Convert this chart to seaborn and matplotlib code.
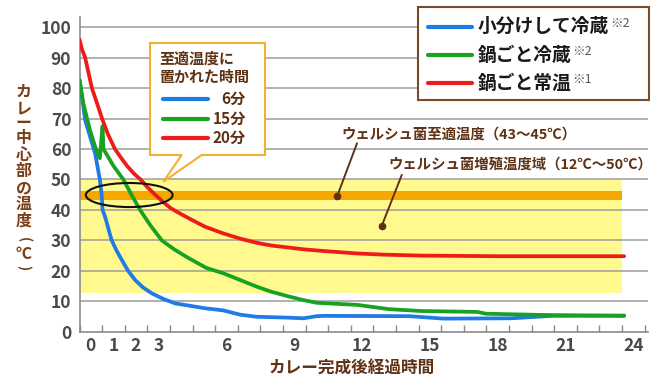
import numpy as np
import pandas as pd
import matplotlib
matplotlib.use("Agg")
import matplotlib.pyplot as plt
import seaborn as sns
from matplotlib.patches import Rectangle, Ellipse, Polygon
from matplotlib.lines import Line2D

# ---------------- data ----------------
series_names = ["小分けして冷蔵", "鍋ごと冷蔵", "鍋ごと常温"]
series_notes = ["※2", "※2", "※1"]
series_colors = ["#1F7BE6", "#17A321", "#EE1B1B"]

hours_blue = [-0.5, -0.35, -0.25, 0.19, 0.4, 0.48, 0.52, 0.63, 0.92, 1.15, 1.37, 1.65,
              1.96, 2.3, 2.7, 3.2, 3.73, 4.4, 5.05, 5.86, 6.6, 7.34, 8.8, 9.4, 10.0,
              10.3, 14.1, 15.6, 18.6, 20.4, 23.6]
temp_blue = [82.7, 75, 69.5, 58.6, 50, 45, 40, 37.8, 30.1, 26.5, 23.6, 20,
             17, 14.6, 12.6, 10.8, 9.3, 8.5, 7.7, 7.0, 5.6, 4.9, 4.6, 4.4, 5.1,
             5.2, 5.1, 4.3, 4.4, 5.2, 5.3]

hours_green = [-0.5, -0.33, -0.04, 0.19, 0.4, 0.52, 0.56, 1.0, 1.44, 1.8, 2.18, 2.65,
               3.14, 3.7, 4.3, 5.1, 5.86, 6.6, 7.34, 8.0, 8.8, 9.4, 10.0, 11.8, 13.2,
               14.6, 17.1, 17.5, 20.0, 23.6]
temp_green = [82.7, 75, 66.3, 60.8, 57, 67.5, 60, 54.5, 50, 45, 40, 34.8,
              30, 27, 24.3, 21, 19.2, 17, 14.8, 13.1, 11.5, 10.4, 9.5, 8.8, 7.4,
              6.8, 6.5, 5.9, 5.5, 5.2]

hours_red = [-0.5, -0.4, -0.25, 0.05, 0.3, 0.5, 0.75, 1.07, 1.35, 1.6, 1.9, 2.2, 2.5,
             2.85, 3.2, 3.55, 4.0, 4.4, 5.05, 5.86, 6.6, 7.34, 8.0, 8.8, 9.5, 10.3,
             11.8, 13.0, 14.6, 18.0, 23.6]
temp_red = [96, 93, 90, 80, 74.5, 70, 65, 60, 57, 54.5, 52, 50, 47.5,
            45, 42.6, 40.5, 38.6, 37, 34.5, 32.3, 30.6, 29.2, 28.3, 27.6, 27, 26.5,
            25.7, 25.3, 25.0, 24.8, 24.8]

growth_range = (12.8, 50)      # ウェルシュ菌増殖温度域
optimal_range = (43.3, 46.1)   # ウェルシュ菌至適温度
band_hours = (-0.5, 23.5)

x_ticks = [0, 1, 2, 3, 6, 9, 12, 15, 18, 21, 24]
y_ticks = list(range(0, 101, 10))

callout_title = ["至適温度に", "置かれた時間"]
callout_labels = ["6分", "15分", "20分"]

ann_optimal = "ウェルシュ菌至適温度（43～45℃）"
ann_growth = "ウェルシュ菌増殖温度域（12℃～50℃）"
x_label = "カレー完成後経過時間"
y_label_chars = ["カ", "レ", "ー", "中", "心", "部", "の", "温", "度"]
y_label_unit = ["(", "℃", ")"]

# ---------------- style ----------------
sns.set_theme(style="white")
plt.rcParams["font.family"] = ["Noto Sans CJK JP", "DejaVu Sans"]

W, H = 664, 383
fig = plt.figure(figsize=(W / 100, H / 100), dpi=100)

def P(x, y):
    return (x / W, 1 - y / H)

ax_left, ax_right, ax_top, ax_bottom = 79.5, 648, 17, 331.7
ax = fig.add_axes([ax_left / W, (H - ax_bottom) / H, (ax_right - ax_left) / W,
                   (ax_bottom - ax_top) / H])
ax.set_xlim(-0.5, -0.5 + (ax_right - ax_left) / 22.6)
ax.set_ylim(0, (ax_bottom - ax_top) / 3.044)

brown = "#5E3214"
tick_color = "#4A4A4A"
grid_color = "#9C9C9C"

# bands
ax.add_patch(Rectangle((band_hours[0], growth_range[0]), band_hours[1] - band_hours[0],
                       growth_range[1] - growth_range[0], facecolor="#FFF98E",
                       edgecolor="none", zorder=0.1))
ax.add_patch(Rectangle((band_hours[0], optimal_range[0]), band_hours[1] - band_hours[0],
                       optimal_range[1] - optimal_range[0], facecolor="#F6A800",
                       edgecolor="none", zorder=0.2))

# grid
for yv in y_ticks[1:]:
    ax.axhline(yv, color=grid_color, lw=1.1, zorder=0.5)

# data lines
df = pd.concat([
    pd.DataFrame({"t": hours_blue, "v": temp_blue, "s": series_names[0]}),
    pd.DataFrame({"t": hours_green, "v": temp_green, "s": series_names[1]}),
    pd.DataFrame({"t": hours_red, "v": temp_red, "s": series_names[2]}),
])
sns.lineplot(data=df, x="t", y="v", hue="s", hue_order=series_names,
             palette=series_colors, estimator=None, sort=False, legend=False,
             linewidth=2.7, ax=ax)
for ln in ax.lines[-3:]:
    ln.set_solid_capstyle("round")
    ln.set_solid_joinstyle("round")
    ln.set_zorder(3)

# ellipse
ax.add_patch(Ellipse((1.7, 44.9), 3.84, 7.9, facecolor="none", edgecolor="#111111",
                     lw=1.5, zorder=4))

# annotation pointers
ax.plot([11.78, 10.9], [61.9, 44.5], color=brown, lw=1.4, zorder=4)
ax.plot([10.9], [44.5], "o", color=brown, ms=4.5, zorder=4)
ax.plot([13.76, 12.87], [51.5, 34.7], color=brown, lw=1.4, zorder=4)
ax.plot([12.87], [34.7], "o", color=brown, ms=4.5, zorder=4)
ax.text(11.1, 64.6, ann_optimal, fontsize=10.4, color=brown, fontweight="bold",
        va="center", ha="left", zorder=5)
ax.text(13.16, 54.8, ann_growth, fontsize=10.4, color=brown, fontweight="bold",
        va="center", ha="left", zorder=5)

# axes styling
for side in ["top", "right"]:
    ax.spines[side].set_visible(False)
for side in ["left", "bottom"]:
    ax.spines[side].set_color("#8C8C8C")
    ax.spines[side].set_linewidth(1.2)
ax.set_xticks(x_ticks)
ax.set_xticks(np.arange(-0.5, 24.6, 1.0), minor=True)
ax.set_yticks(y_ticks)
ax.tick_params(axis="x", which="major", length=0, pad=4, labelsize=12.5,
               labelcolor=tick_color)
ax.tick_params(axis="x", which="minor", direction="in", length=5, width=1,
               color="#8C8C8C", bottom=True)
ax.tick_params(axis="y", which="major", length=0, pad=6, labelsize=12.5,
               labelcolor=tick_color)
for lab in ax.get_xticklabels() + ax.get_yticklabels():
    lab.set_fontweight("bold")
ax.set_xlabel("")
ax.set_ylabel("")
ax.grid(False)

# x label
fig.text(*P(352, 369), x_label, fontsize=12, color=brown, fontweight="bold",
         ha="center", va="center")
# y label (stacked characters)
ylab_color = "#7A3E14"
y_pos = [91.7, 108, 122.5, 138.5, 155, 171.5, 188, 204, 221]
for ch, yy in zip(y_label_chars, y_pos):
    fig.text(*P(23.5, yy), ch, fontsize=11.5, color=ylab_color, fontweight="bold",
             ha="center", va="center")
for ch, yy in zip(y_label_unit, [240, 253.5, 268]):
    fig.text(*P(23.5, yy), ch, fontsize=11.5 if ch == "℃" else 10,
             color=ylab_color, fontweight="bold", ha="center", va="center",
             rotation=0 if ch == "℃" else -90)

# callout box
callout_pts = [(150, 43), (265, 43), (265, 155), (201.7, 155), (163.3, 181.7),
               (181.7, 155), (150, 155)]
fig.add_artist(Polygon([P(x, y) for x, y in callout_pts], closed=True,
                       transform=fig.transFigure, facecolor="white",
                       edgecolor="#F0B232", lw=1.5, zorder=5))
fig.text(*P(159, 58.3), callout_title[0], fontsize=10.8, color=brown,
         fontweight="bold", ha="left", va="center", zorder=6)
fig.text(*P(159, 77), callout_title[1], fontsize=10.8, color=brown,
         fontweight="bold", ha="left", va="center", zorder=6)
for lab, col, yy in zip(callout_labels, series_colors, [99, 119, 138.3]):
    fig.add_artist(Line2D([163.3 / W, 208 / W], [1 - yy / H, 1 - yy / H],
                          transform=fig.transFigure, color=col, lw=3,
                          solid_capstyle="round", zorder=6))
    fig.text(*P(246, yy), lab, fontsize=11, color=brown, fontweight="bold",
             ha="right", va="center", zorder=6)

# legend box
fig.add_artist(Rectangle(P(418.3, 100), (649.3 - 418.3) / W, (100 - 7.3) / H,
                         transform=fig.transFigure, facecolor="white",
                         edgecolor="#7A4A28", lw=1.5, zorder=5))
legend_texts = []
for name, col, yy in zip(series_names, series_colors, [26.7, 55, 83.3]):
    fig.add_artist(Line2D([428 / W, 471.7 / W], [1 - yy / H, 1 - yy / H],
                          transform=fig.transFigure, color=col, lw=3,
                          solid_capstyle="round", zorder=6))
    t = fig.text(*P(478, yy), name, fontsize=13.5, color="#1A1A1A",
                 fontweight="bold", ha="left", va="center", zorder=6)
    legend_texts.append((t, yy))

fig.canvas.draw()
renderer = fig.canvas.get_renderer()
for (t, yy), note in zip(legend_texts, series_notes):
    bb = t.get_window_extent(renderer)
    fig.text(bb.x1 / W + 0.001, 1 - (yy - 3.5) / H, note, fontsize=9,
             color="#555555", ha="left", va="center", zorder=6)

fig.savefig("out.png", dpi=100)
